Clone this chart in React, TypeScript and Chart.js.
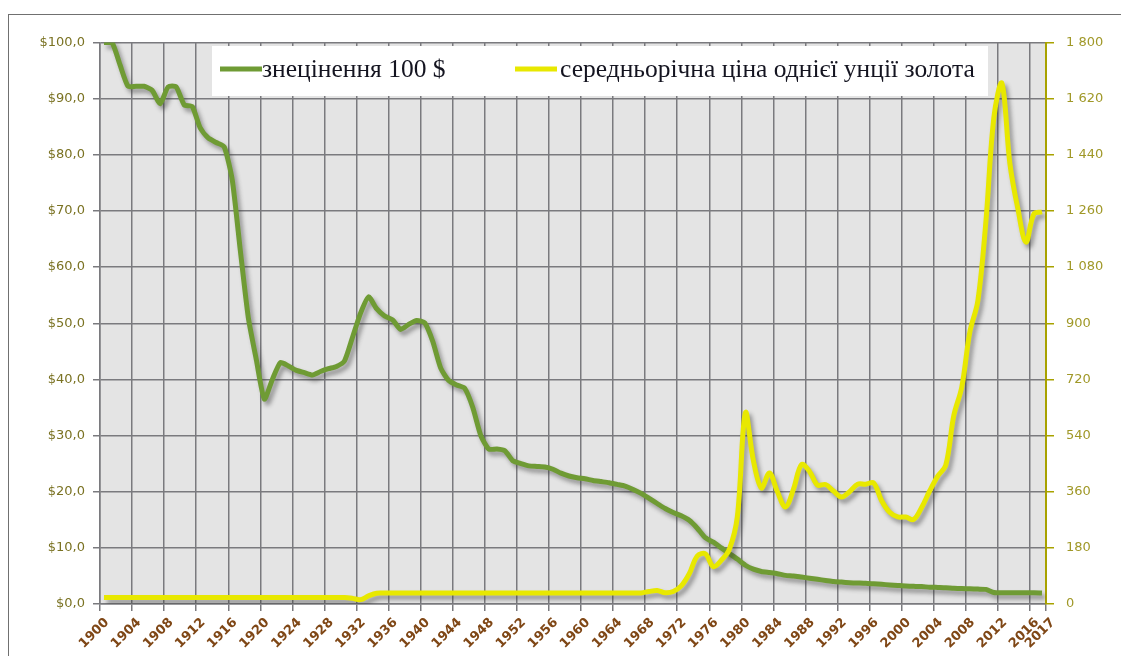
import React, { useEffect, useRef } from 'react';
import { Chart, registerables } from 'chart.js';

Chart.register(...registerables);

// Categories: one point per year, 1900 … 2017
const years: number[] = Array.from({ length: 118 }, (_, i) => 1900 + i);

// Purchasing power of $100 (left axis, $)
const devaluation: number[] = [
  100, 100, 96, 92.2, 92.2, 92.2, 91.5, 89.1, 92.1, 92.1, // 1900s
  88.9, 88.6, 84.8, 83.0, 82.2, 81.4, 75.5, 63.0, 51.0, 43.5, // 1910s
  36.5, 40.0, 43.0, 42.4, 41.6, 41.2, 40.8, 41.4, 41.9, 42.3, // 1920s
  43.3, 47.5, 51.8, 54.7, 52.6, 51.3, 50.6, 48.9, 49.8, 50.5, // 1930s
  50.1, 46.8, 42.0, 39.8, 39.0, 38.4, 35.0, 30.0, 27.6, 27.6, // 1940s
  27.3, 25.5, 25.0, 24.6, 24.5, 24.4, 24.0, 23.3, 22.8, 22.5, // 1950s
  22.3, 22.0, 21.8, 21.6, 21.3, 21.0, 20.4, 19.7, 18.8, 17.9, // 1960s
  17.0, 16.3, 15.7, 14.9, 13.5, 11.8, 11.0, 10.0, 9.0, 8.0,   // 1970s
  6.9, 6.2, 5.8, 5.6, 5.4, 5.1, 5.0, 4.8, 4.6, 4.4,           // 1980s
  4.2, 4.0, 3.9, 3.8, 3.75, 3.7, 3.6, 3.5, 3.4, 3.3,          // 1990s
  3.2, 3.15, 3.1, 3.0, 2.95, 2.9, 2.8, 2.75, 2.7, 2.65,       // 2000s
  2.6, 2.05, 2.0, 2.0, 2.0, 2.0, 2.0, 1.95,                   // 2010s
];

// Average annual price of one ounce of gold (right axis, $)
const goldPrice: number[] = [
  20.67, 20.67, 20.67, 20.67, 20.67, 20.67, 20.67, 20.67, 20.67, 20.67, // 1900s
  20.67, 20.67, 20.67, 20.67, 20.67, 20.67, 20.67, 20.67, 20.67, 20.67, // 1910s
  20.67, 20.67, 20.67, 20.67, 20.67, 20.67, 20.67, 20.67, 20.67, 20.67, // 1920s
  20.67, 18, 14, 26, 34.7, 35, 35, 35, 35, 35,                        // 1930s
  35, 35, 35, 35, 35, 35, 35, 35, 35, 35,                             // 1940s
  35, 35, 35, 35, 35, 35, 35, 35, 35, 35,                             // 1950s
  35.3, 35.5, 35.4, 35.4, 35.4, 35.4, 35.4, 35.4, 40, 43,             // 1960s
  36, 40, 58, 97, 154, 161, 120, 140, 175, 280,                       // 1970s
  613, 460, 372, 420, 360, 311, 368, 447, 425, 381,                   // 1980s
  383, 362, 343, 360, 384, 384, 388, 331, 294, 279,                   // 1990s
  279, 271, 310, 363, 410, 445, 604, 696, 872, 972,                   // 2000s
  1225, 1560, 1669, 1411, 1266, 1160, 1251, 1257,                     // 2010s
];

// Labelled category boundaries on the x axis
const xTickYears: number[] = [
  1900, 1904, 1908, 1912, 1916, 1920, 1924, 1928, 1932, 1936, 1940, 1944, 1948, 1952, 1956,
  1960, 1964, 1968, 1972, 1976, 1980, 1984, 1988, 1992, 1996, 2000, 2004, 2008, 2012, 2016, 2017,
];

const seriesLabels: string[] = ['знецінення 100 $', 'середньорічна ціна однієї унції золота'];

const GREEN = '#6f9b34';
const YELLOW = '#e8e800';
const GRID = '#7a7a7e';

const plotBgPlugin = {
  id: 'plotBg',
  beforeDraw(chart: any) {
    const { ctx, chartArea: a } = chart;
    ctx.save();
    ctx.fillStyle = '#e4e4e4';
    ctx.fillRect(a.left, a.top, a.right - a.left, a.bottom - a.top);
    ctx.restore();
  },
};

const shadowPlugin = {
  id: 'lineShadow',
  beforeDatasetDraw(chart: any) {
    const ctx = chart.ctx;
    ctx.save();
    ctx.shadowColor = 'rgba(50,50,50,0.45)';
    ctx.shadowBlur = 4;
    ctx.shadowOffsetX = 3;
    ctx.shadowOffsetY = 4;
  },
  afterDatasetDraw(chart: any) {
    chart.ctx.restore();
  },
};

const legendPlugin = {
  id: 'boxLegend',
  afterDraw(chart: any) {
    const { ctx, chartArea: a } = chart;
    const ds = chart.data.datasets;
    const boxX = a.left + 112;
    const boxY = a.top + 3.5;
    ctx.save();
    ctx.fillStyle = '#ffffff';
    ctx.fillRect(boxX, boxY, 776, 50);
    ctx.font = '25.5px "Liberation Serif", "Times New Roman", serif';
    ctx.textBaseline = 'alphabetic';
    ctx.fillStyle = '#141420';
    const items = [
      { lineX: boxX + 8, textX: boxX + 50, ds: ds[0] },
      { lineX: boxX + 303, textX: boxX + 348, ds: ds[1] },
    ];
    items.forEach((it) => {
      ctx.strokeStyle = it.ds.borderColor;
      ctx.lineWidth = 5;
      ctx.beginPath();
      ctx.moveTo(it.lineX, boxY + 23);
      ctx.lineTo(it.lineX + 42, boxY + 23);
      ctx.stroke();
      ctx.fillText(it.ds.label, it.textX, boxY + 31);
    });
    ctx.restore();
  },
};

export default function App() {
  const canvasRef = useRef<HTMLCanvasElement | null>(null);

  useEffect(() => {
    document.documentElement.style.overflow = 'hidden';
    document.body.style.overflow = 'hidden';
    const canvas = canvasRef.current;
    if (!canvas) return;

    const lastIdx = xTickYears.length - 1;
    const xTickValues = xTickYears.map((y, i) => (i === lastIdx ? y + 0.5 : y - 0.5));

    const chart = new Chart(canvas, {
      type: 'line',
      data: {
        datasets: [
          {
            label: seriesLabels[0],
            data: years.map((x, i) => ({ x, y: devaluation[i] })),
            yAxisID: 'y',
            borderColor: GREEN,
            backgroundColor: GREEN,
            borderWidth: 5,
            tension: 0.2,
            pointRadius: 0,
            order: 1,
          },
          {
            label: seriesLabels[1],
            data: years.map((x, i) => ({ x, y: goldPrice[i] })),
            yAxisID: 'y1',
            borderColor: YELLOW,
            backgroundColor: YELLOW,
            borderWidth: 5,
            tension: 0.35,
            pointRadius: 0,
            order: 0,
          },
        ],
      },
      options: {
        responsive: false,
        animation: false,
        layout: { padding: { top: 27.5, left: 0, right: 0, bottom: 0 } },
        plugins: {
          legend: { display: false },
          tooltip: { enabled: false },
        },
        scales: {
          x: {
            type: 'linear',
            min: years[0] - 0.5,
            max: years[years.length - 1] + 0.5,
            afterBuildTicks: (scale: any) => {
              scale.ticks = xTickValues.map((v) => ({ value: v }));
            },
            afterFit: (scale: any) => {
              scale.height = 52;
            },
            ticks: {
              autoSkip: false,
              minRotation: 45,
              maxRotation: 45,
              padding: 4,
              labelOffset: 7,
              color: '#7f4716',
              font: { family: '"DejaVu Sans", sans-serif', size: 13, weight: 'bold' },
              callback: (_v: any, i: number) => String(xTickYears[i]),
            },
            grid: { color: GRID, lineWidth: 1.5, tickLength: 7 },
            border: { color: GRID, width: 1.5 },
          },
          y: {
            position: 'left',
            min: 0,
            max: 100,
            afterFit: (scale: any) => {
              scale.width = 91;
            },
            ticks: {
              stepSize: 10,
              padding: 8,
              color: '#7a7222',
              font: { family: '"DejaVu Sans", sans-serif', size: 13 },
              callback: (v: any) => '$' + Number(v).toFixed(1).replace('.', ','),
            },
            grid: { color: GRID, lineWidth: 1.5, tickLength: 7 },
            border: { color: GRID, width: 1.5 },
          },
          y1: {
            position: 'right',
            min: 0,
            max: 1800,
            afterFit: (scale: any) => {
              scale.width = 83;
            },
            ticks: {
              stepSize: 180,
              padding: 12,
              color: '#a09828',
              font: { family: '"DejaVu Sans", sans-serif', size: 13 },
              callback: (v: any) => {
                const n = Number(v);
                return n >= 1000 ? `${Math.floor(n / 1000)} ${String(n % 1000).padStart(3, '0')}` : String(n);
              },
            },
            grid: { drawOnChartArea: false, color: '#a8a200', lineWidth: 1.5, tickLength: 8 },
            border: { color: '#a8a200', width: 2 },
          },
        },
      } as any,
      plugins: [plotBgPlugin, shadowPlugin, legendPlugin],
    });

    return () => chart.destroy();
  }, []);

  return (
    <div
      style={{
        marginTop: 6,
        width: 1121,
        height: 642,
        boxSizing: 'border-box',
        borderTop: '1px solid #707070',
        borderLeft: '1px solid #707070',
        position: 'relative',
        overflow: 'hidden',
        background: '#ffffff',
      }}
    >
      <canvas
        ref={canvasRef}
        width={1120}
        height={641}
        style={{ position: 'absolute', left: 0, top: 0, display: 'block' }}
      />
    </div>
  );
}
